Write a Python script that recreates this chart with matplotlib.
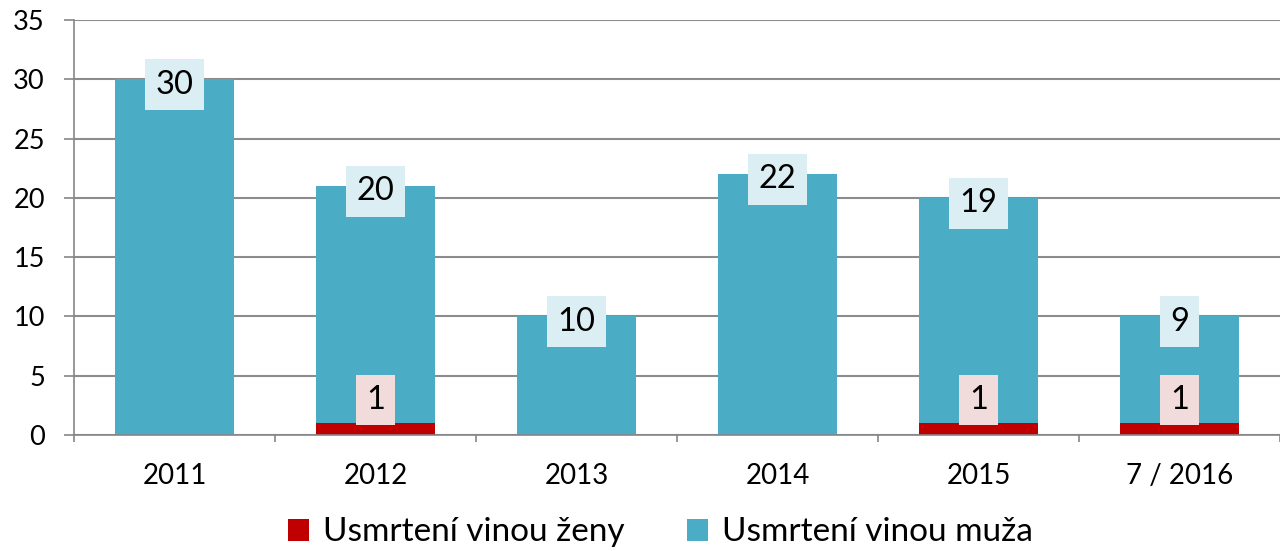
import numpy as np
import matplotlib.pyplot as plt

plt.rcParams["font.family"] = ["Lato", "DejaVu Sans"]

years = ["2011", "2012", "2013", "2014", "2015", "7 / 2016"]
women = [0, 1, 0, 0, 1, 1]
men = [30, 20, 10, 22, 19, 9]

blue = "#4BACC6"
red = "#C00000"

fig = plt.figure(figsize=(12.8, 5.51), dpi=100)
ax = fig.add_axes([74 / 1280, 1 - 435 / 551, 1206 / 1280, 415 / 551])

x = np.arange(len(years))
ax.bar(x, women, width=0.59, color=red, zorder=2, label="Usmrtení vinou ženy")
ax.bar(x, men, width=0.59, bottom=women, color=blue, zorder=2,
       label="Usmrtení vinou muža")

for xi, w, m in zip(x, women, men):
    if m:
        ax.text(xi, w + m - 0.45, str(m), ha="center", va="center", fontsize=23.5,
                zorder=3,
                bbox=dict(boxstyle="square,pad=0.32", fc="#DAEEF3", ec="none"))
    if w:
        ax.text(xi, 2.95, str(w), ha="center", va="center", fontsize=23.5,
                zorder=3,
                bbox=dict(boxstyle="square,pad=0.32", fc="#F2DCDB", ec="none"))

ax.set_xlim(-0.5, -0.5 + 1206 / 203.5)
ax.set_ylim(0, 35)
ax.set_yticks(range(0, 36, 5))
ax.set_xticks(x)
ax.set_xticklabels(years)
ax.set_xticks(np.arange(-0.5, 6, 1), minor=True)
ax.tick_params(axis="x", which="major", length=0, labelsize=20, pad=20)
ax.tick_params(axis="x", which="minor", length=5, color="#868686", width=1.2)
ax.tick_params(axis="y", length=7, color="#868686", width=1.2, labelsize=19.5, pad=14)
ax.yaxis.grid(True, color="#8C8C8C", lw=1.5, zorder=0)
for s in ["top", "right"]:
    ax.spines[s].set_visible(False)
for s in ["left", "bottom"]:
    ax.spines[s].set_color("#868686")
    ax.spines[s].set_linewidth(1.2)

fig.legend(loc="lower center", bbox_to_anchor=(0.516, -0.048), ncol=2, frameon=False,
           fontsize=24, handlelength=0.63, handleheight=0.63, handletextpad=0.42,
           columnspacing=1.85)

fig.savefig("out.png", dpi=100)
